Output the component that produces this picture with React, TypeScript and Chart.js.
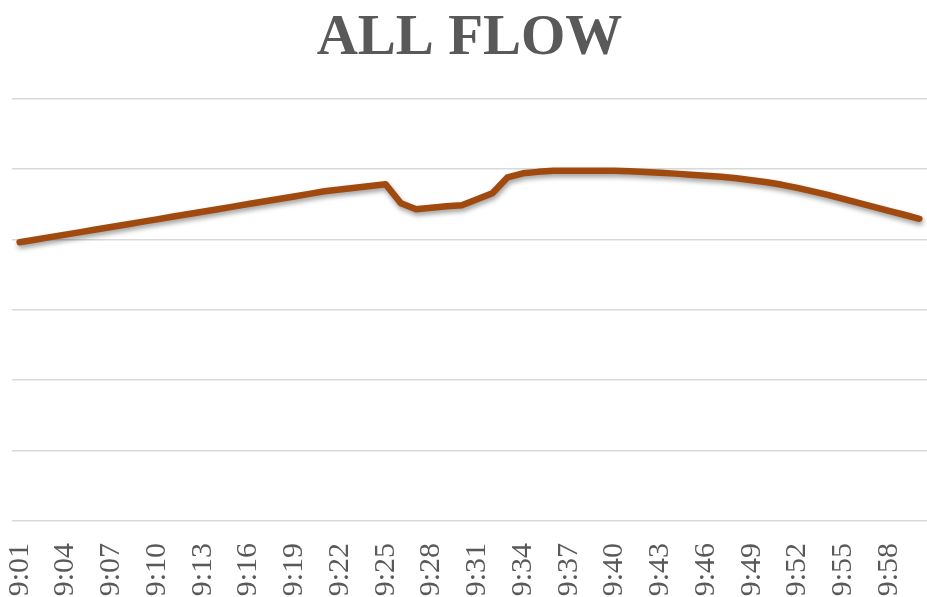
import React, { useEffect, useRef } from "react";
import { Chart, registerables } from "chart.js";

Chart.register(...registerables);

const minutes: string[] = [
  "9:01", "9:02", "9:03", "9:04", "9:05", "9:06", "9:07", "9:08", "9:09", "9:10",
  "9:11", "9:12", "9:13", "9:14", "9:15", "9:16", "9:17", "9:18", "9:19", "9:20",
  "9:21", "9:22", "9:23", "9:24", "9:25", "9:26", "9:27", "9:28", "9:29", "9:30",
  "9:31", "9:32", "9:33", "9:34", "9:35", "9:36", "9:37", "9:38", "9:39", "9:40",
  "9:41", "9:42", "9:43", "9:44", "9:45", "9:46", "9:47", "9:48", "9:49", "9:50",
  "9:51", "9:52", "9:53", "9:54", "9:55", "9:56", "9:57", "9:58", "9:59", "10:00",
];

const allFlow: number[] = [
  39.57, 39.93, 40.30, 40.66, 41.02, 41.38, 41.74, 42.10, 42.47, 42.83,
  43.19, 43.55, 43.91, 44.27, 44.64, 45.00, 45.36, 45.72, 46.08, 46.44,
  46.81, 47.06, 47.30, 47.55, 47.80, 45.11, 44.26, 44.47, 44.68, 44.82,
  45.67, 46.52, 48.79, 49.36, 49.57, 49.72, 49.72, 49.72, 49.72, 49.72,
  49.65, 49.55, 49.43, 49.32, 49.15, 49.01, 48.87, 48.65, 48.37, 48.09,
  47.73, 47.30, 46.81, 46.31, 45.74, 45.18, 44.61, 44.04, 43.48, 42.91,
];

const yMin = 0;
const yMax = 60;
const yStep = 10;

// soft drop shadow under the flow line
const lineShadow = {
  id: "lineShadow",
  beforeDatasetsDraw(chart: Chart) {
    const ctx = chart.ctx;
    ctx.save();
    ctx.shadowColor = "rgba(0,0,0,0.38)";
    ctx.shadowBlur = 5;
    ctx.shadowOffsetX = 1;
    ctx.shadowOffsetY = 3;
  },
  afterDatasetsDraw(chart: Chart) {
    chart.ctx.restore();
  },
};

const serif = "'Liberation Serif', 'Times New Roman', serif";

export default function App() {
  const canvasRef = useRef<HTMLCanvasElement | null>(null);

  useEffect(() => {
    if (!canvasRef.current) return;
    const chart = new Chart(canvasRef.current, {
      type: "line",
      data: {
        labels: minutes,
        datasets: [
          {
            label: "ALL FLOW",
            data: allFlow,
            borderColor: "#A04A0F",
            borderWidth: 6.5,
            pointRadius: 0,
            tension: 0,
            borderJoinStyle: "round",
            borderCapStyle: "round",
            fill: false,
          },
        ],
      },
      plugins: [lineShadow],
      options: {
        animation: false,
        responsive: true,
        maintainAspectRatio: false,
        layout: { padding: { left: 12, right: 0, top: 0, bottom: 0 } },
        plugins: {
          legend: { display: false },
          tooltip: { enabled: false },
          title: {
            display: true,
            text: "ALL FLOW",
            color: "#595959",
            font: { family: serif, size: 57, weight: "bold" },
            padding: { top: 5, bottom: 25 },
          },
        },
        scales: {
          x: {
            offset: true,
            grid: { display: false, drawTicks: false },
            border: { display: false },
            ticks: {
              autoSkip: false,
              minRotation: 90,
              maxRotation: 90,
              padding: 22,
              color: "#595959",
              font: { family: serif, size: 30 },
              callback: (_v: any, i: number) => (i % 3 === 0 ? minutes[i] : null),
            },
            afterFit: (scale: any) => {
              scale.height = 76;
              scale.paddingLeft = 0;
              scale.paddingRight = 0;
            },
          },
          y: {
            min: yMin,
            max: yMax,
            ticks: { display: false, stepSize: yStep },
            grid: { color: "#D9D9D9", lineWidth: 1.5, drawTicks: false },
            border: { display: false },
          },
        },
      },
    });
    return () => chart.destroy();
  }, []);

  return (
    <div style={{ position: "fixed", left: 0, top: 0, width: 927, height: 597, background: "#fff" }}>
      <canvas ref={canvasRef} />
    </div>
  );
}
